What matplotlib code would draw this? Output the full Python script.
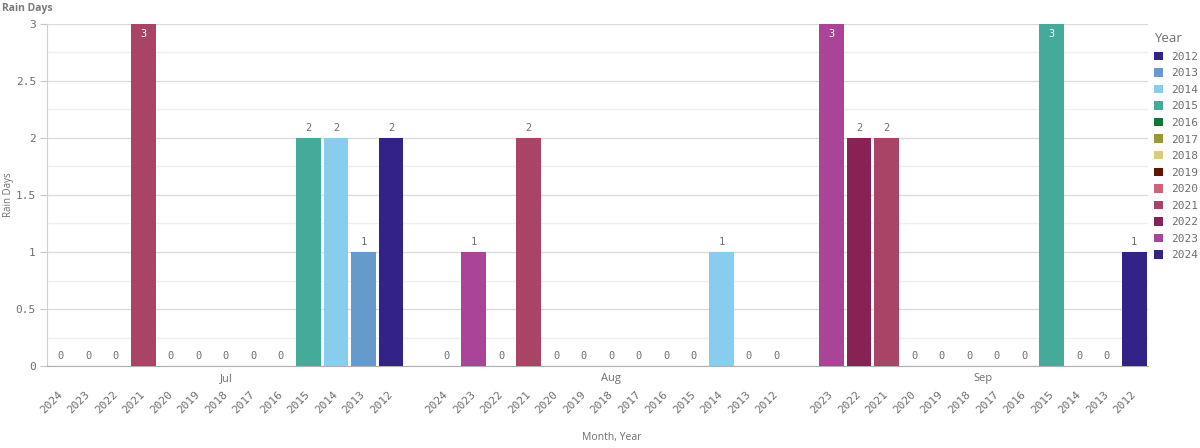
import matplotlib
matplotlib.use('Agg')
import matplotlib.pyplot as plt
from matplotlib.ticker import MultipleLocator, FuncFormatter

# ---------------- data ----------------
months = ['Jul', 'Aug', 'Sep']
jul_years = [2024, 2023, 2022, 2021, 2020, 2019, 2018, 2017, 2016, 2015, 2014, 2013, 2012]
jul_days = [0, 0, 0, 3, 0, 0, 0, 0, 0, 2, 2, 1, 2]
aug_years = [2024, 2023, 2022, 2021, 2020, 2019, 2018, 2017, 2016, 2015, 2014, 2013, 2012]
aug_days = [0, 1, 0, 2, 0, 0, 0, 0, 0, 0, 1, 0, 0]
sep_years = [2023, 2022, 2021, 2020, 2019, 2018, 2017, 2016, 2015, 2014, 2013, 2012]
sep_days = [3, 2, 2, 0, 0, 0, 0, 0, 3, 0, 0, 1]

legend_years = [2012, 2013, 2014, 2015, 2016, 2017, 2018, 2019, 2020, 2021, 2022, 2023, 2024]
year_colors = ['#332288', '#6699CC', '#88CCEE', '#44AA99', '#117733', '#999933',
               '#DDCC77', '#661100', '#CC6677', '#AA4466', '#882255', '#AA4499', '#332288']

title = 'Rain Days'
y_label = 'Rain Days'
x_label = 'Month, Year'
legend_title = 'Year'

# ---------------- layout ----------------
TXT = '#6e6e6e'
MONO = 'DejaVu Sans Mono'
SANS = 'Open Sans'

fig = plt.figure(figsize=(12, 4.48), dpi=100)
ax = fig.add_axes([47 / 1200, 1 - 366 / 448, 1101 / 1200, 342 / 448])

groups = [(months[0], jul_years, jul_days),
          (months[1], aug_years, aug_days),
          (months[2], sep_years, sep_days)]

pos = 0
all_pos, all_years, all_vals, month_centers = [], [], [], []
for m, yrs, vals in groups:
    p = list(range(pos, pos + len(yrs)))
    all_pos += p
    all_years += yrs
    all_vals += vals
    month_centers.append((m, sum(p) / len(p)))
    pos += len(yrs) + 1

color_of = dict(zip(legend_years, year_colors))

handles = []
for yr in legend_years:
    xs = [p for p, y in zip(all_pos, all_years) if y == yr]
    vs = [v for v, y in zip(all_vals, all_years) if y == yr]
    b = ax.bar(xs, vs, width=0.9, color=color_of[yr], label=str(yr), zorder=3)
    handles.append(b)

ymax = 3
for p, v in zip(all_pos, all_vals):
    if v >= ymax:
        ax.annotate(f'{v:g}', xy=(p, v), xytext=(0, -7), textcoords='offset points',
                    ha='center', va='center', fontsize=7.5, family=MONO,
                    color='white', zorder=4)
    else:
        ax.annotate(f'{v:g}', xy=(p, v), xytext=(0, 7.5), textcoords='offset points',
                    ha='center', va='center', fontsize=7.5, family=MONO,
                    color=TXT, zorder=4)

ax.set_xlim(-0.5, pos - 1 - 0.5)
ax.set_ylim(0, ymax)

# grid
ax.yaxis.set_major_locator(MultipleLocator(0.5))
ax.yaxis.set_minor_locator(MultipleLocator(0.25))
ax.yaxis.set_major_formatter(FuncFormatter(lambda v, _: f'{v:g}'))
ax.grid(axis='y', which='major', color='#dcdcdc', lw=1.0, zorder=0)
ax.grid(axis='y', which='minor', color='#efefef', lw=1.0, zorder=0)
ax.set_axisbelow(True)

for s in ['top', 'right']:
    ax.spines[s].set_visible(False)
ax.spines['left'].set_color('#d0d0d0')
ax.spines['bottom'].set_color('#b0b0b0')

ax.tick_params(axis='y', which='major', length=5, color='#c8c8c8', labelsize=8,
               labelcolor=TXT, pad=3)
ax.tick_params(axis='y', which='minor', length=0)
for t in ax.get_yticklabels():
    t.set_family(MONO)

ax.set_xticks(all_pos, [str(y) for y in all_years])
ax.tick_params(axis='x', length=0, labelsize=8, labelcolor=TXT, pad=19)
for t in ax.get_xticklabels():
    t.set_family(MONO)
    t.set_rotation(45)
    t.set_ha('right')
    t.set_va('center')
    t.set_rotation_mode('anchor')

for m, c in month_centers:
    ax.annotate(m, xy=(c, 0), xycoords=ax.get_xaxis_transform(),
                xytext=(0, -9), textcoords='offset points', ha='center', va='center',
                fontsize=8, color=TXT, family=SANS)

ax.set_xlabel(x_label, fontsize=7.5, color=TXT, family=SANS)
ax.xaxis.set_label_coords((612 - 47) / 1101, (366 - 432) / 342)
ax.set_ylabel(y_label, fontsize=7, color=TXT, family=SANS)
ax.yaxis.set_label_coords((14 - 47) / 1101, 0.5)

fig.text(2 / 1200, 1 - 8 / 448, title, fontsize=7.5, fontweight='bold', color='#7a7a7a',
         family=SANS, ha='left', va='center')

leg = fig.legend(handles=handles, labels=[str(y) for y in legend_years],
                 loc='upper left', bbox_to_anchor=(1152 / 1200, 1 - 30 / 448),
                 frameon=False, prop={'family': MONO, 'size': 8},
                 handlelength=0.8, handleheight=0.8, handletextpad=0.7,
                 labelspacing=0.58, title=legend_title, alignment='left',
                 borderaxespad=0, borderpad=0.2)
leg.get_title().set_fontsize(9.5)
leg.get_title().set_color(TXT)
leg.get_title().set_family(SANS)
for t in leg.get_texts():
    t.set_color(TXT)

fig.savefig('out.png', dpi=100)
